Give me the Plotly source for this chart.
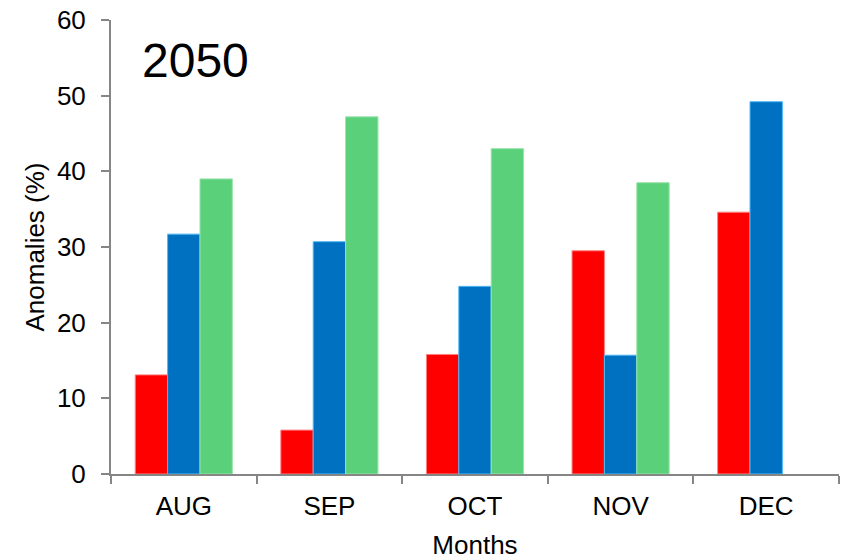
import plotly.graph_objects as go

months = ["AUG", "SEP", "OCT", "NOV", "DEC"]
series_a = [13.1, 5.8, 15.8, 29.5, 34.6]
series_b = [31.7, 30.7, 24.8, 15.7, 49.2]
series_c = [39.0, 47.2, 43.0, 38.5, None]

fill_colors = ["#FF0000", "#0070C0", "#5BD07A"]
edge_colors = ["#FF8080", "#4DB8F5", "#9BE3AE"]

fig = go.Figure()
for vals, fc, ec in zip([series_a, series_b, series_c], fill_colors, edge_colors):
    fig.add_trace(go.Bar(
        x=months, y=vals,
        marker=dict(color=fc, line=dict(color=ec, width=1)),
        showlegend=False,
    ))

font_family = "Liberation Sans, Arial, sans-serif"
axis_grey = "#868686"
label_size = 26

fig.update_layout(
    width=846, height=560,
    margin=dict(l=111, r=7, t=20, b=86),
    paper_bgcolor="white", plot_bgcolor="white",
    barmode="group", bargap=0.333, bargroupgap=0,
    font=dict(family=font_family, size=label_size, color="black"),
    xaxis=dict(
        type="category", automargin=False,
        showline=True, linecolor=axis_grey, linewidth=2,
        ticks="outside", tickson="boundaries", ticklen=8, tickcolor=axis_grey, tickwidth=2,
        tickfont=dict(size=label_size), ticklabelstandoff=8,
        title=dict(text="Months", font=dict(size=label_size), standoff=18),
        showgrid=False, zeroline=False,
    ),
    yaxis=dict(
        range=[0, 60], autorange=False, dtick=10, automargin=False,
        showline=True, linecolor=axis_grey, linewidth=2,
        ticks="outside", ticklen=8, tickcolor=axis_grey, tickwidth=2,
        tickfont=dict(size=label_size), ticklabelstandoff=10,
        title=dict(text="Anomalies (%)", font=dict(size=label_size), standoff=5),
        showgrid=False, zeroline=False,
    ),
    annotations=[dict(
        text="2050", x=0.04, y=0.91, xref="paper", yref="paper",
        xanchor="left", yanchor="middle", showarrow=False,
        font=dict(size=48, color="black"),
    )],
)

fig.write_html("out.html")
